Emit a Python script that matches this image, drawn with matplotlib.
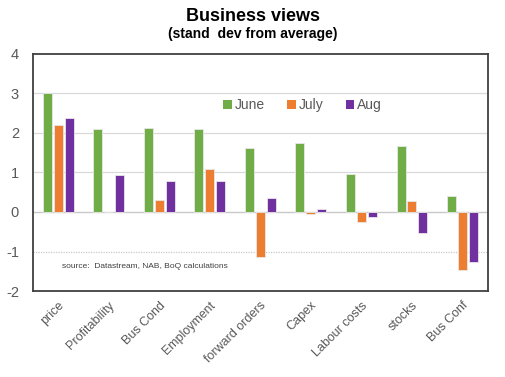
import matplotlib.pyplot as plt
import numpy as np
from matplotlib.patches import Patch

plt.rcParams['font.family'] = ['Liberation Sans', 'DejaVu Sans']
plt.rcParams['axes.unicode_minus'] = False

# Data
categories = ['price', 'Profitability', 'Bus Cond', 'Employment', 'forward orders',
              'Capex', 'Labour costs', 'stocks', 'Bus Conf']
june = [3.0, 2.1, 2.13, 2.1, 1.63, 1.74, 0.96, 1.66, 0.4]
july = [2.19, 0.0, 0.31, 1.1, -1.15, -0.04, -0.26, 0.29, -1.46]
aug = [2.39, 0.93, 0.78, 0.78, 0.35, 0.07, -0.12, -0.53, -1.26]
series = [('June', june, '#70AD47'), ('July', july, '#ED7D31'), ('Aug', aug, '#7030A0')]

fig = plt.figure(figsize=(5.05, 3.77), dpi=100)
ax = fig.add_axes([0.065, 0.228, 0.901, 0.629])

x = np.arange(len(categories))
w = 0.178
off = 0.217
handles = []
for i, (name, vals, col) in enumerate(series):
    ax.bar(x + (i - 1) * off, vals, width=w, color=col, edgecolor='#e8e8e8',
           linewidth=0.6, zorder=3)
    handles.append(Patch(facecolor=col, label=name))

ax.set_xlim(-0.5, len(categories) - 0.5)
ax.set_ylim(-2, 4)
ax.set_yticks([-2, -1, 0, 1, 2, 3, 4])
for yv in [1, 2, 3]:
    ax.axhline(yv, color='#d9d9d9', linewidth=0.9, zorder=1)
ax.axhline(0, color='#c8c8c8', linewidth=1.0, zorder=1)
ax.axhline(-1, color='#c8c8c8', linewidth=0.9, linestyle=(0, (1, 1)), zorder=1)

for s in ax.spines.values():
    s.set_color('#404040')
    s.set_linewidth(1.3)

ax.set_xticks(x)
ax.set_xticklabels(categories, rotation=45, ha='right', rotation_mode='anchor',
                   fontsize=9, color='#595959')
ax.tick_params(axis='x', length=0, pad=6)
ax.tick_params(axis='y', length=0, pad=10, labelsize=10.5, labelcolor='#595959')

leg = ax.legend(handles=handles, loc='upper left', bbox_to_anchor=(0.391, 0.865),
                ncol=3, frameon=False, fontsize=10, handlelength=0.6,
                handleheight=0.6, handletextpad=0.2, columnspacing=1.65)
for t in leg.get_texts():
    t.set_color('#595959')

ax.text(0.07, -1.38, 'source:  Datastream, NAB, BoQ calculations', fontsize=6,
        color='#404040', va='center')

fig.text(0.5, 0.945, 'Business views', ha='center', fontsize=13, fontweight='bold')
fig.text(0.5, 0.9, '(stand  dev from average)', ha='center', fontsize=10,
         fontweight='bold')

fig.savefig('out.png', dpi=100)
